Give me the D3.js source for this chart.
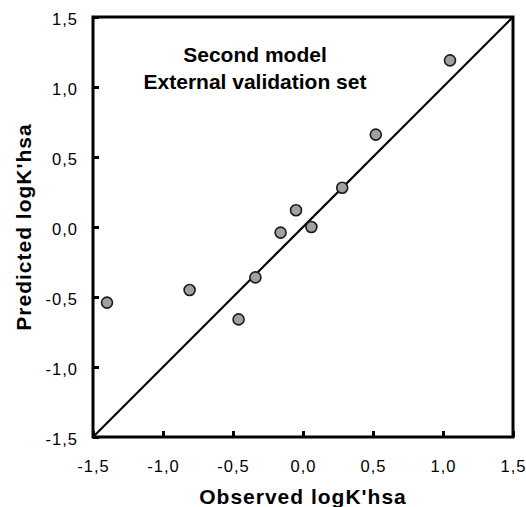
<!DOCTYPE html>
<html><head><meta charset="utf-8">
<script src="https://cdn.jsdelivr.net/npm/d3@7"></script>
<style>body{margin:0;background:#fff}</style>
</head><body><svg id="c" width="526" height="507"></svg>
<script>
const observed = [-1.40, -0.81, -0.46, -0.34, -0.16, -0.05, 0.06, 0.28, 0.52, 1.05];
const predicted = [-0.54, -0.45, -0.66, -0.36, -0.04, 0.12, 0.00, 0.28, 0.66, 1.19];
const tickValues = [-1.5, -1.0, -0.5, 0.0, 0.5, 1.0, 1.5];
const tickLabels = ["-1,5", "-1,0", "-0,5", "0,0", "0,5", "1,0", "1,5"];
const titleLines = ["Second model", "External validation set"];
const xTitle = "Observed logK'hsa";
const yTitle = "Predicted logK'hsa";

const svg = d3.select("#c");
const L = 93, R = 513, T = 17, B = 437;
const x = d3.scaleLinear().domain([-1.5, 1.5]).range([L, R]);
const y = d3.scaleLinear().domain([-1.5, 1.5]).range([B, T]);
const font = "Arial, 'Liberation Sans', sans-serif";

// identity line
svg.append("line").attr("x1", x(-1.5)).attr("y1", y(-1.5)).attr("x2", x(1.5)).attr("y2", y(1.5))
  .attr("stroke", "#000").attr("stroke-width", 2.2);

// axes (ticks inward)
const fmt = d => tickLabels[tickValues.indexOf(d)];
const xAxis = svg.append("g").attr("transform", `translate(0,${B})`)
  .call(d3.axisBottom(x).tickValues(tickValues).tickFormat(fmt).tickSizeInner(-6).tickSizeOuter(0).tickPadding(23));
const yAxis = svg.append("g").attr("transform", `translate(${L},0)`)
  .call(d3.axisLeft(y).tickValues(tickValues).tickFormat(fmt).tickSizeInner(-6).tickSizeOuter(0).tickPadding(15));
[xAxis, yAxis].forEach(g => {
  g.select(".domain").remove();
  g.selectAll(".tick line").attr("stroke", "#000").attr("stroke-width", 3);
  g.selectAll(".tick text").attr("font-family", font).attr("font-size", 16.5)
    .attr("letter-spacing", 1).attr("fill", "#000");
});
yAxis.selectAll(".tick text").attr("dy", "0.45em");

// frame
svg.append("rect").attr("x", L).attr("y", T).attr("width", R - L).attr("height", B - T)
  .attr("fill", "none").attr("stroke", "#000").attr("stroke-width", 3);

// points
svg.append("g").selectAll("circle").data(observed).join("circle")
  .attr("cx", d => x(d)).attr("cy", (d, i) => y(predicted[i])).attr("r", 5.5)
  .attr("fill", "#a0a0a0").attr("stroke", "#1a1a1a").attr("stroke-width", 1.6);

// title
svg.append("g").selectAll("text").data(titleLines).join("text")
  .attr("x", 255).attr("y", (d, i) => 62 + i * 27).attr("text-anchor", "middle")
  .attr("font-family", font).attr("font-weight", "bold").attr("font-size", 21).text(d => d);

// axis titles
svg.append("text").attr("x", 303).attr("y", 504).attr("text-anchor", "middle")
  .attr("font-family", font).attr("font-weight", "bold").attr("font-size", 21)
  .attr("letter-spacing", 1).text(xTitle);
svg.append("text").attr("transform", `translate(31,${(T + B) / 2}) rotate(-90)`).attr("text-anchor", "middle")
  .attr("font-family", font).attr("font-weight", "bold").attr("font-size", 21)
  .attr("letter-spacing", 1).text(yTitle);
</script></body></html>
